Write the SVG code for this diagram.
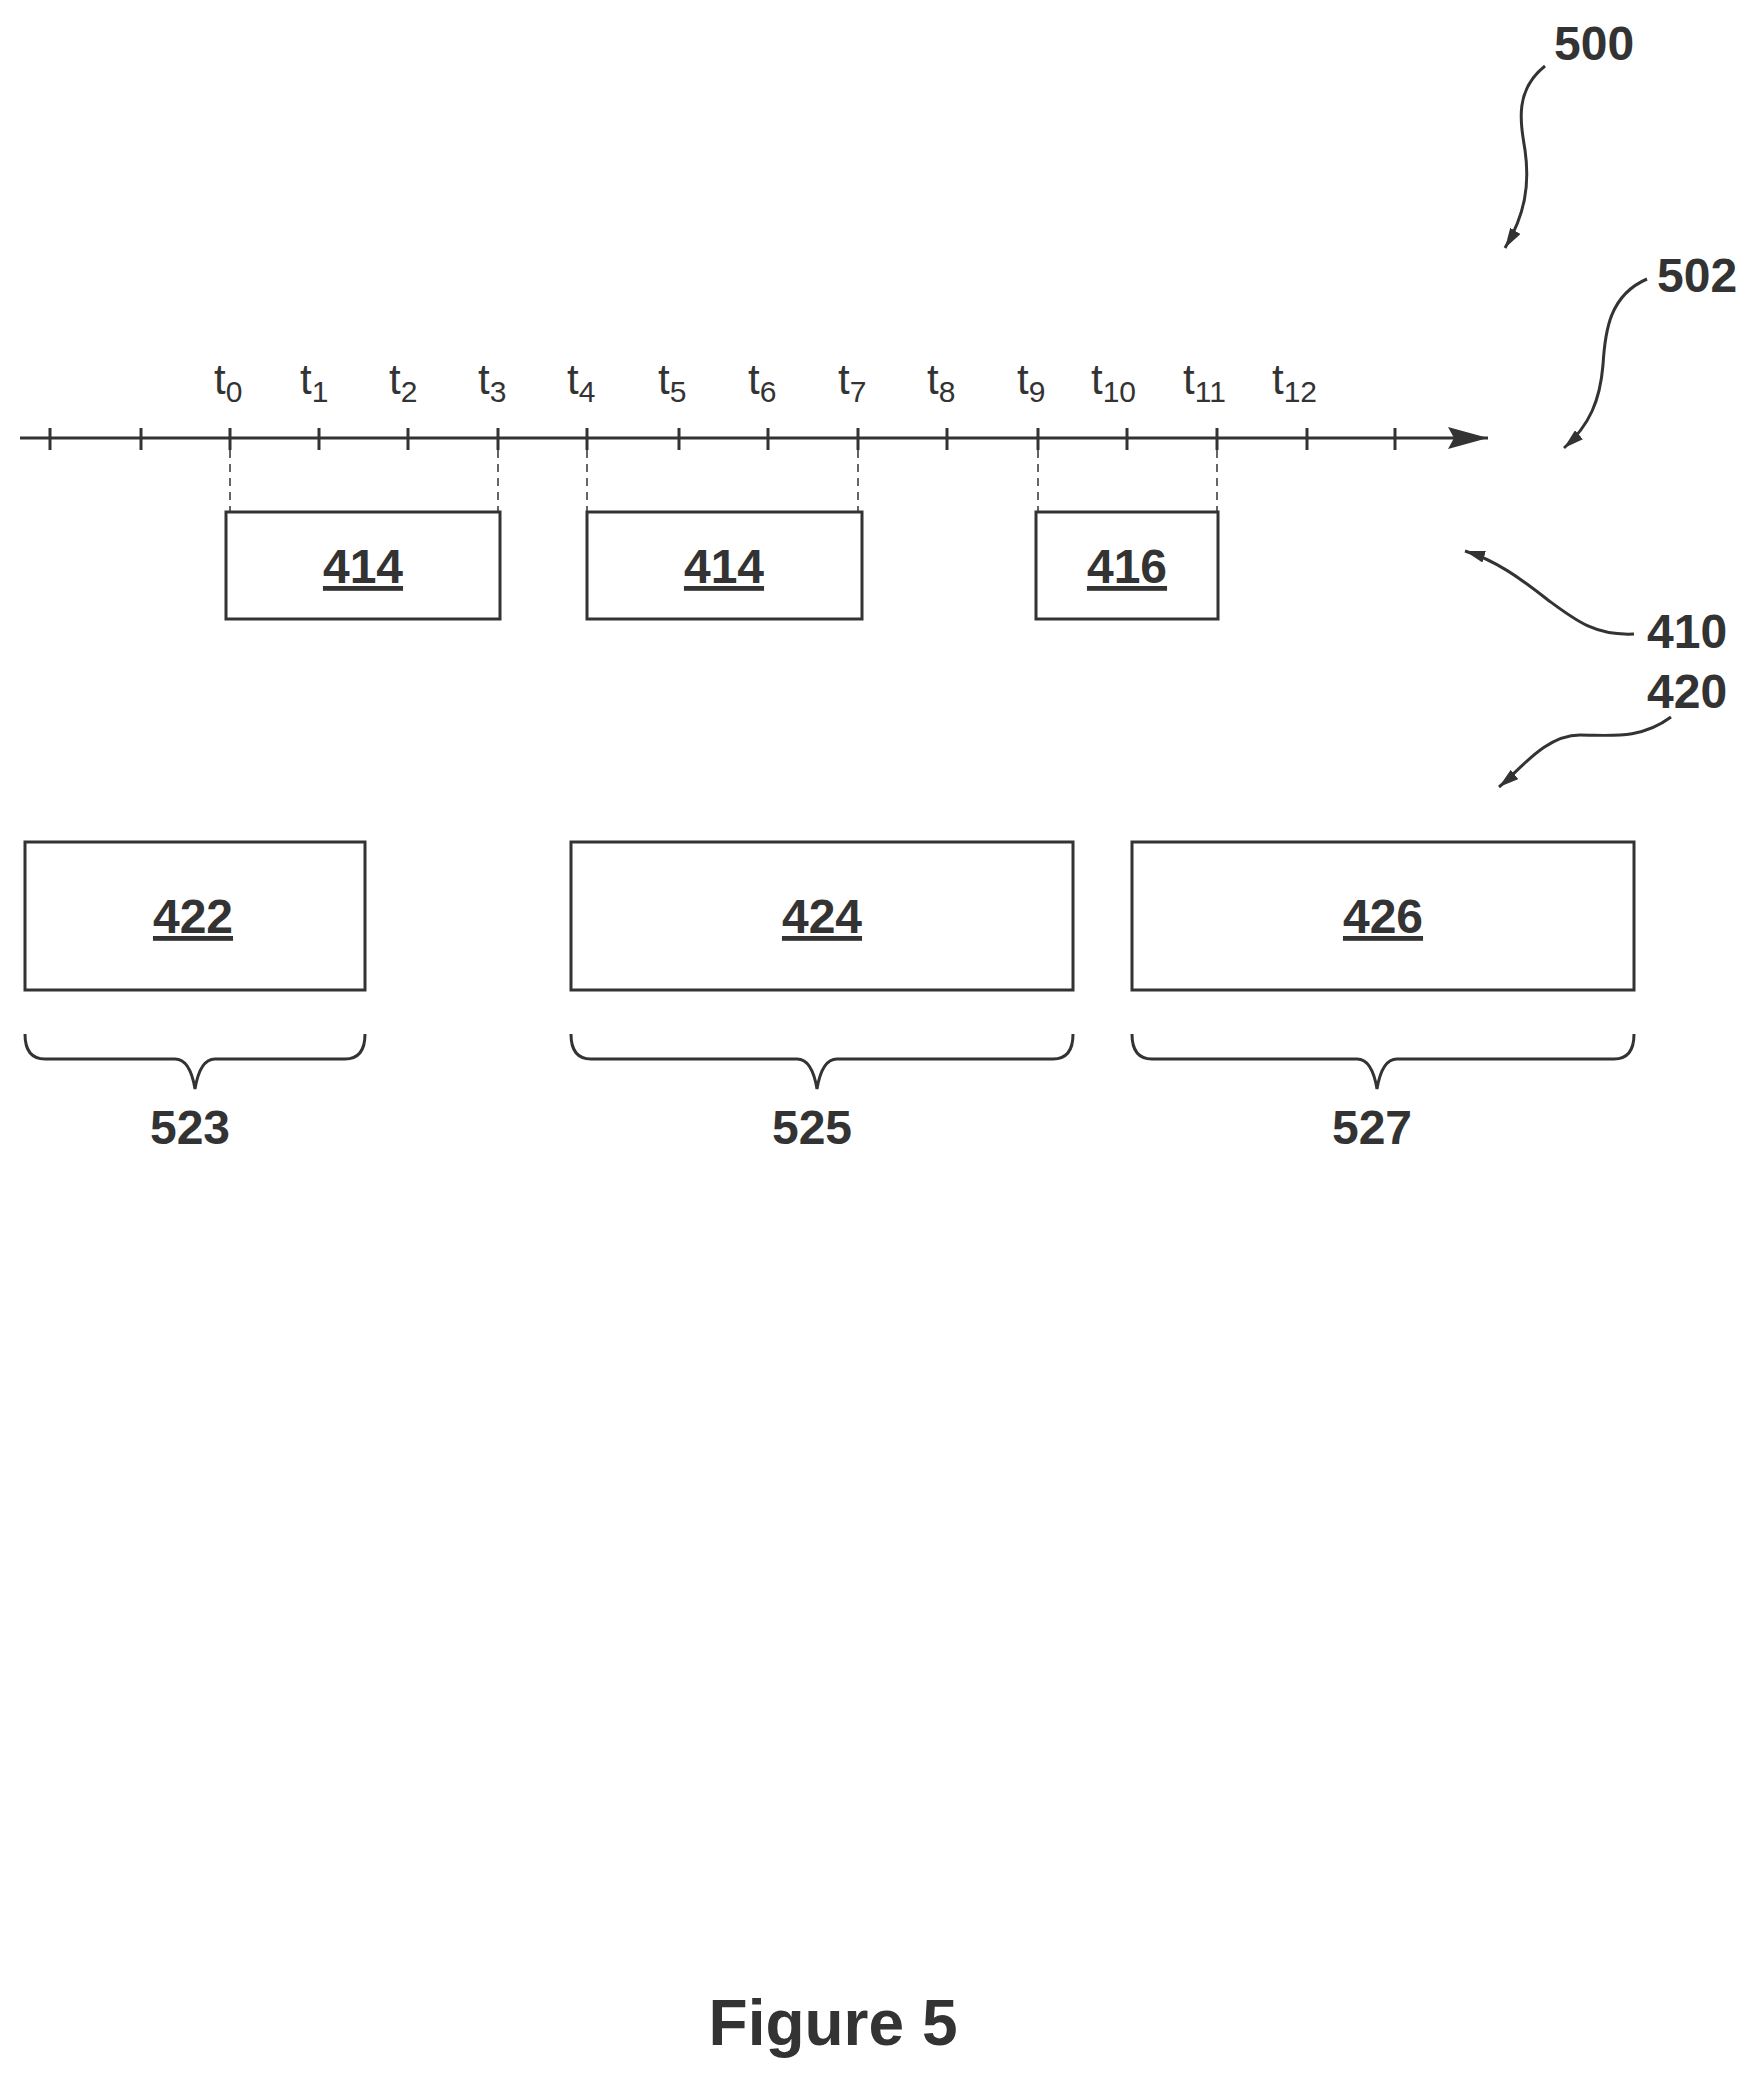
<svg xmlns="http://www.w3.org/2000/svg" width="1763" height="2080" viewBox="0 0 1763 2080">
<style>
.ln{stroke:#333;stroke-width:3;fill:none}
.dash{stroke:#333;stroke-width:1.5;stroke-dasharray:8 6;fill:none}
.box{stroke:#333;stroke-width:3;fill:#fff}
.t{font-family:"Liberation Sans",Arial,sans-serif;font-size:42px;fill:#333}
.s{font-size:30px}
.b{font-family:"Liberation Sans",Arial,sans-serif;font-weight:bold;font-size:48px;fill:#333;text-anchor:middle}
.r{font-family:"Liberation Sans",Arial,sans-serif;font-weight:bold;font-size:48px;fill:#333}
</style>
<defs>
<marker id="ah" viewBox="0 0 20 12" refX="20" refY="6" markerWidth="20" markerHeight="12" markerUnits="userSpaceOnUse" orient="auto"><path d="M0,0 L20,6 L0,12 Z" fill="#333"/></marker>
<marker id="ax" viewBox="0 0 40 22" refX="40" refY="11" markerWidth="40" markerHeight="22" markerUnits="userSpaceOnUse" orient="auto"><path d="M0,0 L40,11 L0,22 L6,11 Z" fill="#333"/></marker>
</defs>
<g id="connectors">
<line class="ln" x1="20" y1="438" x2="1488" y2="438" marker-end="url(#ax)"/>
<g class="ln">
<line x1="50" y1="428" x2="50" y2="450"/><line x1="141" y1="428" x2="141" y2="450"/><line x1="230" y1="428" x2="230" y2="450"/><line x1="319" y1="428" x2="319" y2="450"/><line x1="408" y1="428" x2="408" y2="450"/><line x1="498" y1="428" x2="498" y2="450"/><line x1="587" y1="428" x2="587" y2="450"/><line x1="679" y1="428" x2="679" y2="450"/><line x1="768" y1="428" x2="768" y2="450"/><line x1="858" y1="428" x2="858" y2="450"/><line x1="947" y1="428" x2="947" y2="450"/><line x1="1038" y1="428" x2="1038" y2="450"/><line x1="1127" y1="428" x2="1127" y2="450"/><line x1="1217" y1="428" x2="1217" y2="450"/><line x1="1307" y1="428" x2="1307" y2="450"/><line x1="1395" y1="428" x2="1395" y2="450"/>
</g>
<g class="dash">
<line x1="230" y1="450" x2="230" y2="512"/><line x1="498" y1="450" x2="498" y2="512"/><line x1="587" y1="450" x2="587" y2="512"/><line x1="858" y1="450" x2="858" y2="512"/><line x1="1038" y1="450" x2="1038" y2="512"/><line x1="1217" y1="450" x2="1217" y2="512"/>
</g>
<path class="ln" d="M1545,66 C1515,90 1520,120 1525,150 C1530,185 1525,215 1505,248" marker-end="url(#ah)"/>
<path class="ln" d="M1647,279 C1610,295 1605,330 1603,365 C1600,400 1590,425 1564,448" marker-end="url(#ah)"/>
<path class="ln" d="M1634,634 C1595,636 1575,620 1548,600 C1520,578 1495,560 1465,551" marker-end="url(#ah)"/>
<path class="ln" d="M1671,717 C1640,740 1610,735 1580,735 C1545,735 1520,770 1499,787" marker-end="url(#ah)"/>
<path class="ln" d="M25,1034 Q25,1059 45,1059 L175,1059 Q190,1059 195,1089 Q200,1059 215,1059 L345,1059 Q365,1059 365,1034"/>
<path class="ln" d="M571,1034 Q571,1059 591,1059 L797,1059 Q812,1059 817,1089 Q822,1059 837,1059 L1053,1059 Q1073,1059 1073,1034"/>
<path class="ln" d="M1132,1034 Q1132,1059 1152,1059 L1357,1059 Q1372,1059 1377,1089 Q1382,1059 1397,1059 L1614,1059 Q1634,1059 1634,1034"/>
</g>
<g id="ticks-labels">
<text class="t" x="214" y="394">t<tspan class="s" dy="8">0</tspan></text>
<text class="t" x="300" y="394">t<tspan class="s" dy="8">1</tspan></text>
<text class="t" x="389" y="394">t<tspan class="s" dy="8">2</tspan></text>
<text class="t" x="478" y="394">t<tspan class="s" dy="8">3</tspan></text>
<text class="t" x="567" y="394">t<tspan class="s" dy="8">4</tspan></text>
<text class="t" x="658" y="394">t<tspan class="s" dy="8">5</tspan></text>
<text class="t" x="748" y="394">t<tspan class="s" dy="8">6</tspan></text>
<text class="t" x="838" y="394">t<tspan class="s" dy="8">7</tspan></text>
<text class="t" x="927" y="394">t<tspan class="s" dy="8">8</tspan></text>
<text class="t" x="1017" y="394">t<tspan class="s" dy="8">9</tspan></text>
<text class="t" x="1091" y="394">t<tspan class="s" dy="8">10</tspan></text>
<text class="t" x="1183" y="394">t<tspan class="s" dy="8">11</tspan></text>
<text class="t" x="1272" y="394">t<tspan class="s" dy="8">12</tspan></text>
</g>
<g id="n414a"><rect class="box" x="226" y="512" width="274" height="107"/><text class="b" x="363" y="583" text-decoration="underline">414</text></g>
<g id="n414b"><rect class="box" x="587" y="512" width="275" height="107"/><text class="b" x="724" y="583" text-decoration="underline">414</text></g>
<g id="n416"><rect class="box" x="1036" y="512" width="182" height="107"/><text class="b" x="1127" y="583" text-decoration="underline">416</text></g>
<g id="n422"><rect class="box" x="25" y="842" width="340" height="148"/><text class="b" x="193" y="933" text-decoration="underline">422</text></g>
<g id="n424"><rect class="box" x="571" y="842" width="502" height="148"/><text class="b" x="822" y="933" text-decoration="underline">424</text></g>
<g id="n426"><rect class="box" x="1132" y="842" width="502" height="148"/><text class="b" x="1383" y="933" text-decoration="underline">426</text></g>
<g id="refs">
<text class="r" x="1554" y="60">500</text>
<text class="r" x="1657" y="292">502</text>
<text class="r" x="1647" y="648">410</text>
<text class="r" x="1647" y="708">420</text>
<text class="b" x="190" y="1144">523</text>
<text class="b" x="812" y="1144">525</text>
<text class="b" x="1372" y="1144">527</text>
<text class="b" x="833" y="2045" style="font-size:64px">Figure 5</text>
</g>
</svg>
